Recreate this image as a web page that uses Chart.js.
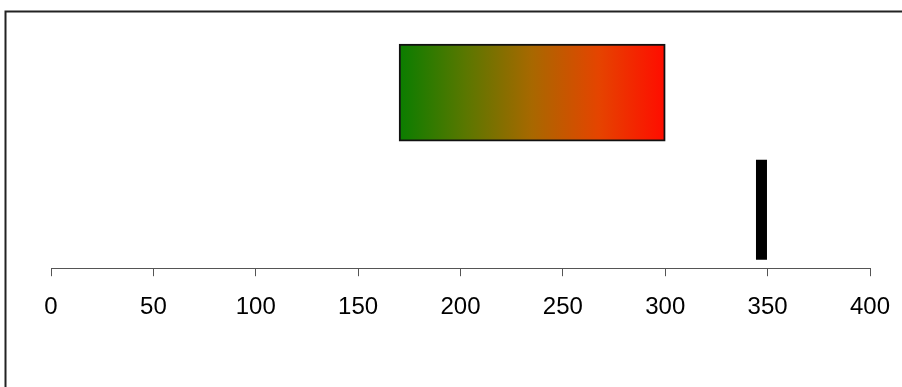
<!DOCTYPE html>
<html>
<head>
<meta charset="utf-8">
<script src="https://cdn.jsdelivr.net/npm/chart.js@4"></script>
<style>
body{margin:0;background:#fff;}
#wrap{width:902px;height:387px;position:relative;}
</style>
</head>
<body>
<div id="wrap"><canvas id="chart"></canvas></div>
<script>
// Data
let rows=["range","marker"];
let rangeValues=[[170,300],null];
let markerValue=347;
let xMin=0, xMax=400, xStep=50;

// Frame (only top and left edges are visible in the picture)
let framePlugin={id:"frame",afterDraw(chart){let c=chart.ctx; c.save(); c.strokeStyle="#222"; c.lineWidth=2; c.beginPath(); c.moveTo(5.5,chart.height); c.lineTo(5.5,11.5); c.lineTo(chart.width,11.5); c.stroke(); c.restore();}};

function rangeGradient(ctx){
    let chart=ctx.chart; let x=chart.scales.x;
    if(!chart.chartArea||!x) return "#888";
    let v=rangeValues[0];
    let g=chart.ctx.createLinearGradient(x.getPixelForValue(v[0]),0,x.getPixelForValue(v[1]),0);
    g.addColorStop(0,"#0a7d00");
    g.addColorStop(0.25,"#5a7700");
    g.addColorStop(0.5,"#a86800");
    g.addColorStop(0.75,"#e54400");
    g.addColorStop(1,"#ff0c00");
    return g;
}

new Chart(document.getElementById("chart"),{
    type:"bar",
    data:{labels:rows,datasets:[
        {type:"bar",data:rangeValues,backgroundColor:rangeGradient,borderColor:"#111",borderWidth:2,borderSkipped:false,barThickness:97},
        {type:"scatter",data:[{x:markerValue,y:"marker"}],pointStyle:"line",rotation:90,radius:50,hoverRadius:50,borderColor:"#000",borderWidth:11,backgroundColor:"#000"}
    ]},
    options:{
        indexAxis:"y",responsive:true,maintainAspectRatio:false,animation:false,
        layout:{autoPadding:false,padding:{left:51,right:32,top:34,bottom:48}},
        plugins:{legend:{display:false},tooltip:{enabled:false}},
        scales:{
            y:{type:"category",display:false,offset:true},
            x:{type:"linear",min:xMin,max:xMax,
               afterFit(s){s.paddingLeft=0; s.paddingRight=0;},
               ticks:{stepSize:xStep,color:"#000",padding:17,font:{family:"'Liberation Sans', Arial, sans-serif",size:24}},
               grid:{drawOnChartArea:false,drawTicks:true,tickLength:8,tickColor:"#555"},
               border:{display:true,color:"#555",width:1}}
        }
    },
    plugins:[framePlugin]
});
</script>
</body>
</html>
